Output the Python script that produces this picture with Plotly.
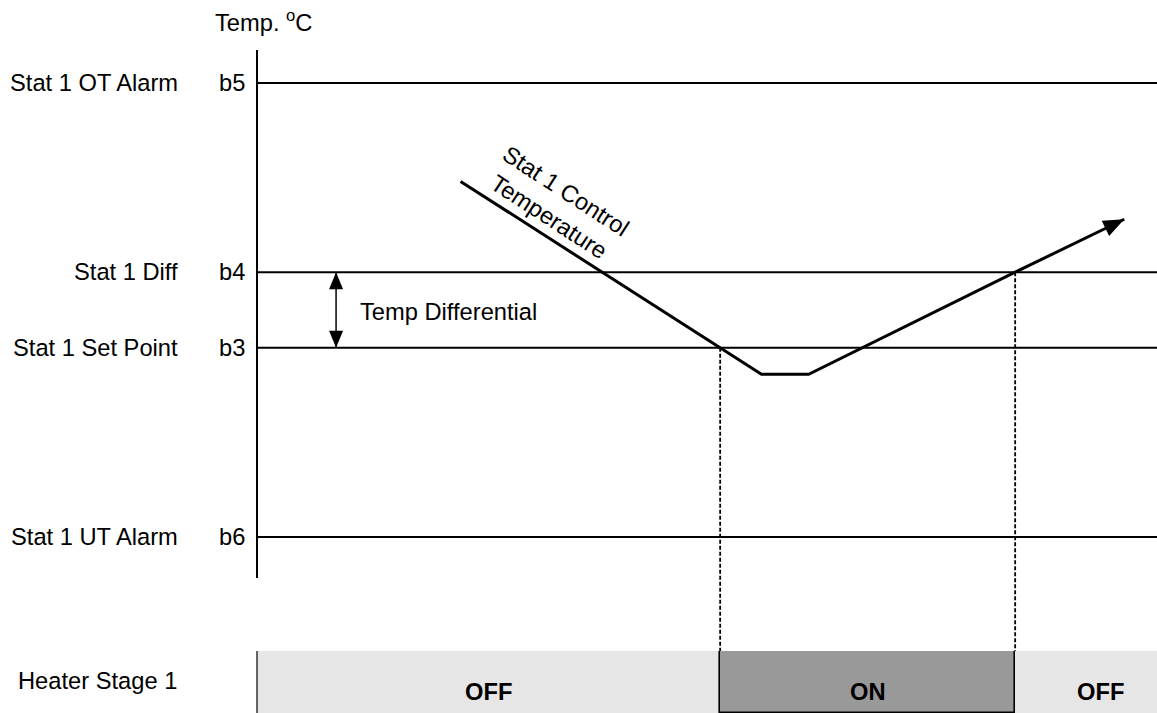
import math
import plotly.graph_objects as go

# ---------------- data ----------------
level_names = ["Stat 1 OT Alarm", "Stat 1 Diff", "Stat 1 Set Point", "Stat 1 UT Alarm"]
level_codes = ["b5", "b4", "b3", "b6"]
level_temps = [27.0, 22.0, 20.0, 15.0]          # temperature (°C) of each level

ctrl_time = [6.9, 15.7, 17.1, 18.7, 25.7, 29.4]  # minutes
ctrl_temp = [24.4, 20.0, 19.3, 19.3, 22.0, 23.4]  # °C

heater_edges = [0.0, 15.7, 25.7, 31.46]          # switching times (min)
heater_states = ["OFF", "ON", "OFF"]

diff_time = 2.68                                  # where the differential arrow is drawn
set_point = 20.0
diff_point = 22.0

# ---------------- geometry / style ----------------
W, H = 1157, 713
X_RANGE = [-8.712, 30.508]
Y_RANGE = [10.348, 29.195]
PX_X = W / (X_RANGE[1] - X_RANGE[0])
PX_Y = H / (Y_RANGE[1] - Y_RANGE[0])
HEATER_TOP = 62 / H          # paper fraction of heater row
FONT = "Liberation Sans, Arial, sans-serif"
FS = 23.7

heater_top_temp = Y_RANGE[0] + HEATER_TOP * (Y_RANGE[1] - Y_RANGE[0])


def arrow_head(tip_x, tip_y, from_x, from_y, length, half_w):
    """Filled triangular head (pixel-sized) anchored at a data point."""
    dx = (tip_x - from_x) * PX_X
    dy = (tip_y - from_y) * PX_Y
    d = math.hypot(dx, dy)
    ux, uy = dx / d, dy / d
    nx, ny = -uy, ux
    bx, by = -ux * length, -uy * length
    p1 = (bx + nx * half_w, by + ny * half_w)
    p2 = (bx - nx * half_w, by - ny * half_w)
    path = "M0,0 L%.2f,%.2f L%.2f,%.2f Z" % (p1[0], p1[1], p2[0], p2[1])
    return dict(type="path", xref="x", yref="y", xsizemode="pixel",
                ysizemode="pixel", xanchor=tip_x, yanchor=tip_y, path=path,
                fillcolor="black", line=dict(width=0), layer="above")


fig = go.Figure()

# control temperature line
n = len(ctrl_time)
fig.add_trace(go.Scatter(
    x=ctrl_time, y=ctrl_temp, mode="lines",
    line=dict(color="black", width=3, backoff=[0] * (n - 1) + [8]),
    hoverinfo="skip", showlegend=False,
))

# temp differential double arrow shaft
fig.add_trace(go.Scatter(
    x=[diff_time, diff_time], y=[set_point, diff_point], mode="lines",
    line=dict(color="black", width=1.5),
    hoverinfo="skip", showlegend=False,
))

# heater stage bars
starts = heater_edges[:-1]
widths = [b - a for a, b in zip(heater_edges[:-1], heater_edges[1:])]
colors = ["#e6e6e6" if s == "OFF" else "#999999" for s in heater_states]
lw = [0 if s == "OFF" else 1.6 for s in heater_states]
fig.add_trace(go.Bar(
    x=widths, base=starts, y=[0.5] * len(starts), orientation="h", width=1,
    marker=dict(color=colors, line=dict(color="black", width=lw)),
    yaxis="y2", hoverinfo="skip", showlegend=False,
))

shapes = []
# temperature axis line
shapes.append(dict(type="line", xref="x", yref="paper", x0=0, x1=0,
                   y0=1 - 578 / H, y1=1 - 50 / H,
                   line=dict(color="black", width=2)))
# heater row left edge
shapes.append(dict(type="line", xref="x", yref="paper", x0=0, x1=0,
                   y0=0, y1=HEATER_TOP, line=dict(color="#333333", width=1.5)))
# level lines
for t in level_temps:
    shapes.append(dict(type="line", xref="x", yref="y", x0=0, x1=X_RANGE[1],
                       y0=t, y1=t, line=dict(color="black", width=2)))
# dashed switching lines
for tx, lev in [(heater_edges[1], set_point), (heater_edges[2], diff_point)]:
    shapes.append(dict(type="line", xref="x", yref="y", x0=tx, x1=tx,
                       y0=lev, y1=heater_top_temp,
                       line=dict(color="black", width=1.8, dash="4px,2px")))
# arrow heads
shapes.append(arrow_head(ctrl_time[-1], ctrl_temp[-1],
                         ctrl_time[-2], ctrl_temp[-2], 21, 8.5))
shapes.append(arrow_head(diff_time, diff_point, diff_time, set_point, 17, 7))
shapes.append(arrow_head(diff_time, set_point, diff_time, diff_point, 17, 7))

annotations = []
for name, code, t in zip(level_names, level_codes, level_temps):
    annotations.append(dict(x=0, y=t, xref="x", yref="y", text=name,
                            xanchor="right", yanchor="middle", xshift=-77,
                            showarrow=False))
    annotations.append(dict(x=0, y=t, xref="x", yref="y", text=code,
                            xanchor="right", yanchor="middle", xshift=-10,
                            showarrow=False))
annotations.append(dict(x=0, y=1 - 21 / H, xref="x", yref="paper",
                        text="Temp. <sup>o</sup>C",
                        xanchor="left", yanchor="middle", xshift=-44,
                        showarrow=False))
annotations.append(dict(x=diff_time, y=(set_point + diff_point) / 2,
                        xref="x", yref="y", text="Temp Differential",
                        xanchor="left", yanchor="middle", xshift=22,
                        yshift=-2, showarrow=False))
annotations.append(dict(x=10.2, y=23.8, xref="x", yref="y",
                        text="Stat 1 Control<br>Temperature", textangle=33,
                        showarrow=False, align="center"))
annotations.append(dict(x=0, y=0.5, xref="x", yref="y2", text="Heater Stage 1",
                        xanchor="right", yanchor="middle", xshift=-78,
                        yshift=1.5, showarrow=False))
for a, w, s in zip(starts, widths, heater_states):
    annotations.append(dict(x=a + w / 2, y=0.5, xref="x", yref="y2",
                            text="<b>%s</b>" % s, showarrow=False,
                            yshift=-10))

fig.update_layout(
    width=W, height=H, margin=dict(l=0, r=0, t=0, b=0),
    paper_bgcolor="white", plot_bgcolor="rgba(0,0,0,0)",
    font=dict(family=FONT, size=FS, color="black"),
    xaxis=dict(range=X_RANGE, visible=False, fixedrange=True),
    yaxis=dict(range=Y_RANGE, visible=False, domain=[0, 1], fixedrange=True),
    yaxis2=dict(range=[0, 1], visible=False, domain=[0, HEATER_TOP],
                anchor="x", fixedrange=True),
    shapes=shapes, annotations=annotations, showlegend=False,
    bargap=0,
)

fig.write_html("out.html", config={"displayModeBar": False},
               post_script="document.body.style.margin='0px';")
